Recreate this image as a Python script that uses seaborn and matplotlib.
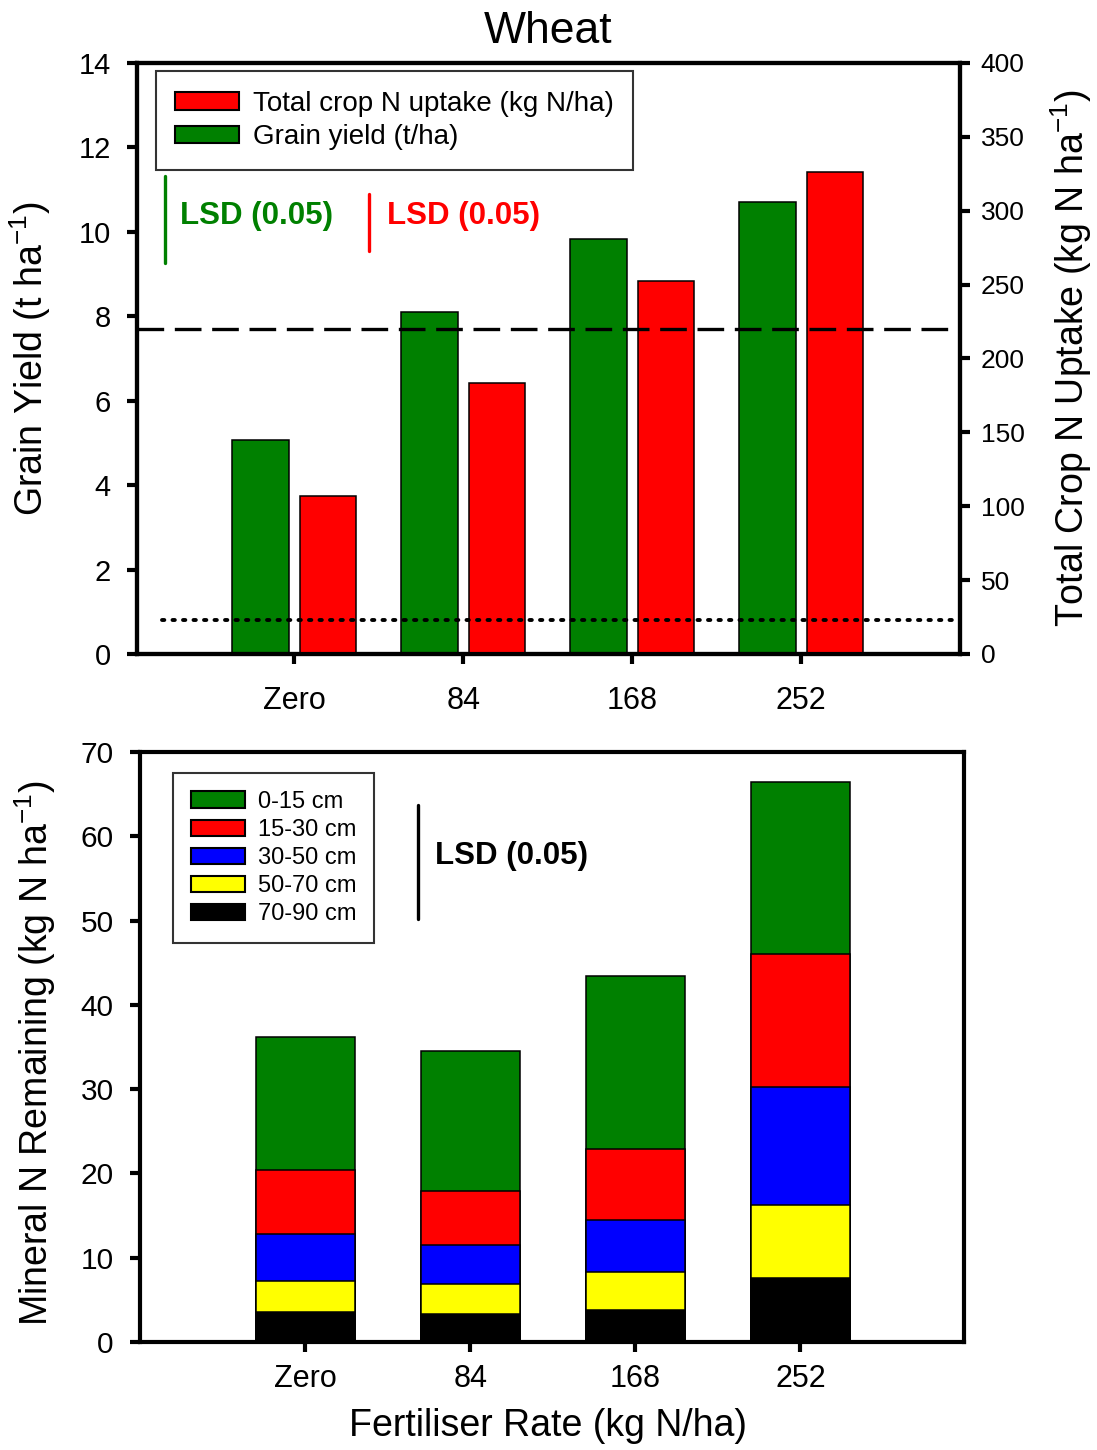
import matplotlib
matplotlib.use("Agg")
import matplotlib.pyplot as plt
import numpy as np
import pandas as pd
import seaborn as sns
from matplotlib.patches import Patch

# ---- data ----
rates = ["Zero", "84", "168", "252"]

grain_yield = [5.06, 8.09, 9.83, 10.71]        # t/ha (left axis)
n_uptake = [106.8, 183.1, 252.7, 326.4]        # kg N/ha (right axis)

yield_lsd = 2.05                               # t/ha
uptake_lsd = 38.0                              # kg N/ha
uptake_ref_dashed = 220.0                      # kg N/ha
uptake_ref_dotted = 23.0                       # kg N/ha

depths = ["0-15 cm", "15-30 cm", "30-50 cm", "50-70 cm", "70-90 cm"]
n_0_15 = [15.8, 16.6, 20.5, 20.4]
n_15_30 = [7.6, 6.4, 8.4, 15.8]
n_30_50 = [5.6, 4.6, 6.2, 13.9]
n_50_70 = [3.7, 3.6, 4.5, 8.7]
n_70_90 = [3.5, 3.3, 3.8, 7.6]
mineral_lsd = 13.5                             # kg N/ha

GREEN, RED, BLUE, YELLOW, BLACK = "#008000", "#ff0000", "#0000ff", "#ffff00", "#000000"
depth_colors = [GREEN, RED, BLUE, YELLOW, BLACK]

# ---- style ----
sns.set_style("ticks")
plt.rcParams["font.family"] = ["Liberation Sans", "DejaVu Sans"]
plt.rcParams["mathtext.fontset"] = "custom"
plt.rcParams["mathtext.rm"] = "Liberation Sans"
plt.rcParams["mathtext.it"] = "Liberation Sans"
plt.rcParams["mathtext.default"] = "regular"
for key in ("text.color", "axes.labelcolor", "xtick.color", "ytick.color", "axes.edgecolor"):
    plt.rcParams[key] = "black"

SPINE_W = 3.0
fig = plt.figure(figsize=(10.97, 14.5), dpi=100)

# ================= top panel =================
ax = fig.add_axes([0.1249, 0.5490, 0.7502, 0.4076])
ax2 = ax.twinx()

top_df = pd.DataFrame({
    "rate": rates * 2,
    "series": ["Grain"] * len(rates) + ["Uptake"] * len(rates),
    "value": grain_yield + n_uptake,
})
pal = {"Grain": GREEN, "Uptake": RED}
common = dict(x="rate", y="value", hue="series", hue_order=["Grain", "Uptake"],
              order=rates, palette=pal, width=0.8, gap=0.16, dodge=True,
              saturation=1, errorbar=None, edgecolor="black", linewidth=1.1,
              legend=False)
sns.barplot(data=top_df[top_df.series == "Grain"], ax=ax, **common)
sns.barplot(data=top_df[top_df.series == "Uptake"], ax=ax2, **common)

ax.set_xlim(-0.93, 3.94)
ax.set_ylim(0, 14)
ax2.set_ylim(0, 400)
ax.set_yticks(np.arange(0, 15, 2))
ax2.set_yticks(np.arange(0, 401, 50))
ax.set_xticks(range(len(rates)))
ax.set_xticklabels(rates)
for lbl in ax.get_xticklabels():
    lbl.set_x(lbl.get_position()[0])

ax.set_xlabel("")
ax.set_ylabel(r"Grain Yield (t ha$^{-1}$)", fontsize=27)
ax2.set_ylabel(r"Total Crop N Uptake (kg N ha$^{-1}$)", fontsize=27)
ax.yaxis.set_label_coords(-0.102, 0.5)
ax2.yaxis.set_label_coords(1.107, 0.5)
ax.set_title("Wheat", fontsize=32, pad=14)

for a in (ax, ax2):
    for s in a.spines.values():
        s.set_visible(True)
        s.set_linewidth(SPINE_W)
ax.tick_params(axis="x", direction="out", length=7, width=SPINE_W, labelsize=22, pad=16,
               bottom=True, top=False)
ax.tick_params(axis="y", direction="out", length=7, width=SPINE_W, labelsize=21, pad=12,
               left=True, right=False)
ax2.tick_params(axis="y", direction="out", length=7, width=SPINE_W, labelsize=19, pad=8,
                right=True, left=False)

# reference lines
ax2.plot([0, 1], [uptake_ref_dashed] * 2, transform=ax2.get_yaxis_transform(),
         color="black", lw=2.4, ls=(0, (8, 3.2)), zorder=6)
ax2.plot([0.03, 1], [uptake_ref_dotted] * 2, transform=ax2.get_yaxis_transform(),
         color="black", lw=2.8, ls=(0, (0.6, 2.1)), dash_capstyle="round", zorder=6)

# LSD markers
y_lsd_top = 11.32
ax.plot([0.034, 0.034], [y_lsd_top - yield_lsd, y_lsd_top], transform=ax.get_yaxis_transform(),
        color=GREEN, lw=2.4, solid_capstyle="round")
ax.text(0.052, 10.38, "LSD (0.05)", transform=ax.get_yaxis_transform(), color=GREEN,
        fontsize=22.5, fontweight="bold", va="center", ha="left")
u_lsd_top = 311.0
ax2.plot([0.282, 0.282], [u_lsd_top - uptake_lsd, u_lsd_top], transform=ax2.get_yaxis_transform(),
         color=RED, lw=2.4, solid_capstyle="round", zorder=6)
ax2.text(0.304, 296.6, "LSD (0.05)", transform=ax2.get_yaxis_transform(), color=RED,
         fontsize=22.5, fontweight="bold", va="center", ha="left")

top_handles = [Patch(facecolor=RED, edgecolor="black", lw=1.5, label="Total crop N uptake (kg N/ha)"),
               Patch(facecolor=GREEN, edgecolor="black", lw=1.5, label="Grain yield (t/ha)")]
leg = ax2.legend(handles=top_handles, loc="upper left", bbox_to_anchor=(0.023, 0.986),
                 borderaxespad=0, fontsize=20, frameon=True, fancybox=False, edgecolor="black",
                 handlelength=2.3, handleheight=0.6, handletextpad=0.5, labelspacing=0.28,
                 borderpad=0.7)
leg.get_frame().set_linewidth(1.5)
leg.set_zorder(10)

# ================= bottom panel =================
bx = fig.add_axes([0.1276, 0.0745, 0.7511, 0.4069])

layers = pd.DataFrame({
    "rate": rates,
    "70-90 cm": n_70_90,
    "50-70 cm": n_50_70,
    "30-50 cm": n_30_50,
    "15-30 cm": n_15_30,
    "0-15 cm": n_0_15,
})
stack_order = ["70-90 cm", "50-70 cm", "30-50 cm", "15-30 cm", "0-15 cm"]
cum = layers[stack_order].cumsum(axis=1)
cum["rate"] = rates
# draw cumulative totals from the top layer down so each layer shows its own slice
for depth, col in zip(depths, depth_colors):
    sns.barplot(data=cum, x="rate", y=depth, order=rates, color=col, saturation=1,
                width=0.6, errorbar=None, edgecolor="black", linewidth=1.1, ax=bx)

bx.set_xlim(-1.0, 3.99)
bx.set_ylim(0, 70)
bx.set_yticks(np.arange(0, 71, 10))
bx.set_xticks(range(len(rates)))
bx.set_xticklabels(rates)
bx.set_xlabel("Fertiliser Rate (kg N/ha)", fontsize=27)
bx.set_ylabel(r"Mineral N Remaining (kg N ha$^{-1}$)", fontsize=27)
bx.xaxis.set_label_coords(0.495, -0.112)
bx.yaxis.set_label_coords(-0.0995, 0.49)
for s in bx.spines.values():
    s.set_visible(True)
    s.set_linewidth(SPINE_W)
bx.tick_params(axis="x", direction="out", length=7, width=SPINE_W, labelsize=22, pad=9,
               bottom=True, top=False)
bx.tick_params(axis="y", direction="out", length=7, width=SPINE_W, labelsize=21.5, pad=12,
               left=True, right=False)

m_lsd_top = 63.7
bx.plot([0.337, 0.337], [m_lsd_top - mineral_lsd, m_lsd_top], transform=bx.get_yaxis_transform(),
        color="black", lw=2.4, solid_capstyle="round")
bx.text(0.358, 57.6, "LSD (0.05)", transform=bx.get_yaxis_transform(), color="black",
        fontsize=22.5, fontweight="bold", va="center", ha="left")

bottom_handles = [Patch(facecolor=c, edgecolor="black", lw=1.5, label=d)
                  for d, c in zip(depths, depth_colors)]
leg2 = bx.legend(handles=bottom_handles, loc="upper left", bbox_to_anchor=(0.040, 0.964),
                 borderaxespad=0, fontsize=17, frameon=True, fancybox=False, edgecolor="black",
                 handlelength=2.3, handleheight=0.7, handletextpad=0.55, labelspacing=0.26,
                 borderpad=0.75)
leg2.get_frame().set_linewidth(1.5)

fig.savefig("out.png", dpi=100)
